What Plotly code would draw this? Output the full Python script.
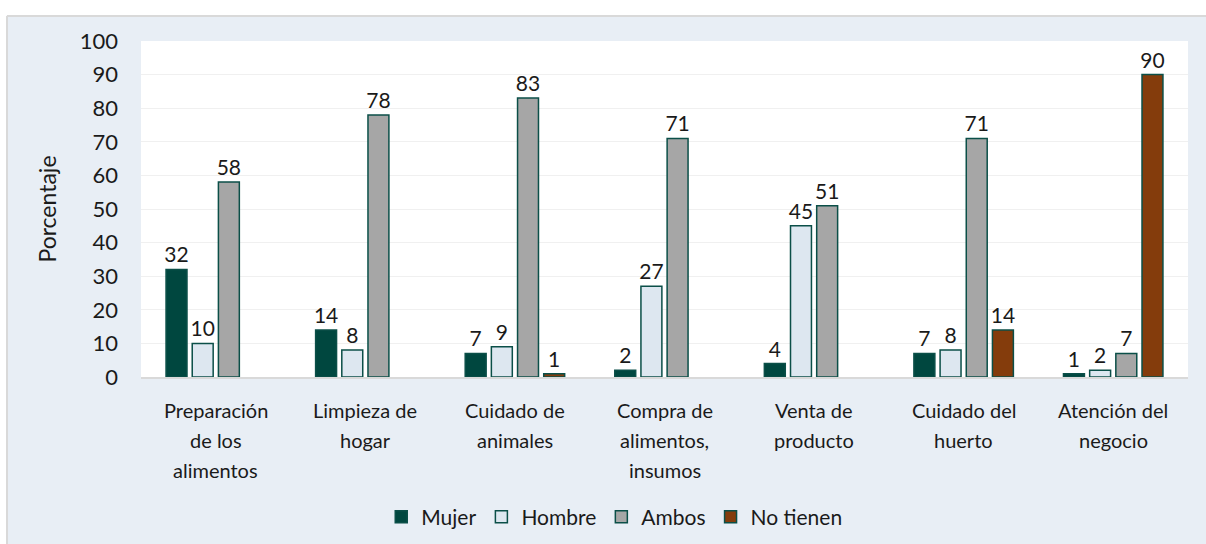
import plotly.graph_objects as go

categories = [
    "Preparación<br>de los<br>alimentos",
    "Limpieza de<br>hogar",
    "Cuidado de<br>animales",
    "Compra de<br>alimentos,<br>insumos",
    "Venta de<br>producto",
    "Cuidado del<br>huerto",
    "Atención del<br>negocio",
]
mujer = [32, 14, 7, 2, 4, 7, 1]
hombre = [10, 8, 9, 27, 45, 8, 2]
ambos = [58, 78, 83, 71, 51, 71, 7]
no_tienen = [None, None, 1, None, None, 14, 90]
y_ticks = [0, 10, 20, 30, 40, 50, 60, 70, 80, 90, 100]

series = [
    ("Mujer", mujer, "#00473f"),
    ("Hombre", hombre, "#dde7f0"),
    ("Ambos", ambos, "#a6a6a6"),
    ("No tienen", no_tienen, "#843c0c"),
]

FONT = "Lato, Carlito, 'Noto Sans', sans-serif"
PH = 336.0   # plot height px
PW = 1047.0  # plot width px

fig = go.Figure()
for name, vals, color in series:
    fig.add_trace(go.Bar(
        x=categories, y=vals, name=name,
        marker=dict(color=color, line=dict(color="#0b4f48", width=1.5)),
        text=[("" if v is None else str(v)) for v in vals],
        textposition="outside", cliponaxis=False, constraintext="none",
        textfont=dict(size=21, color="#1a1a1a", family=FONT),
    ))

# category labels as multi-line annotations (wider line spacing like the reference)
annotations = []
for cat in categories:
    for i, line in enumerate(cat.split("<br>")):
        annotations.append(dict(
            x=cat, xref="x", yref="paper", y=-(410 + 30 * i - 377) / PH,
            text=line, showarrow=False, xanchor="center", yanchor="middle",
            font=dict(size=20, family=FONT, color="#1a1a1a"),
        ))

fig.update_layout(
    width=1206, height=544,
    barmode="group", bargap=0.3, bargroupgap=0.2,
    paper_bgcolor="#e8eef5", plot_bgcolor="white",
    margin=dict(l=141, r=18, t=41, b=167, autoexpand=False),
    font=dict(family=FONT, size=19, color="#1a1a1a"),
    annotations=annotations,
    legend=dict(orientation="h", x=0.452, xanchor="center", y=-(517 - 377) / PH, yanchor="middle",
                font=dict(size=21, family=FONT), traceorder="normal",
                bgcolor="rgba(0,0,0,0)"),
    shapes=[
        dict(type="rect", xref="paper", yref="paper", x0=-0.2, x1=1.1, y0=1.0 + (41 - 15.5) / PH, y1=1.2,
             fillcolor="white", line=dict(width=0), layer="below"),
        dict(type="rect", xref="paper", yref="paper", x0=-0.2, x1=-(141 - 6.5) / PW, y0=-0.6, y1=1.2,
             fillcolor="white", line=dict(width=0), layer="below"),
        dict(type="line", xref="paper", yref="paper", x0=-(141 - 7) / PW, x1=1.1,
             y0=1.0 + (41 - 16) / PH, y1=1.0 + (41 - 16) / PH,
             line=dict(color="#d9d9d9", width=2), layer="below"),
        dict(type="line", xref="paper", yref="paper", x0=-(141 - 7) / PW, x1=-(141 - 7) / PW,
             y0=-0.6, y1=1.0 + (41 - 16) / PH,
             line=dict(color="#d9d9d9", width=2), layer="below"),
    ],
)
fig.update_yaxes(
    range=[0, 100], tickvals=y_ticks, showgrid=True, gridcolor="#f0f0f0", gridwidth=1,
    zeroline=False, showline=False, ticks="", ticklabelstandoff=22,
    tickfont=dict(size=22, family=FONT),
    title=dict(text="Porcentaje", standoff=16, font=dict(size=23, family=FONT)),
)
fig.update_xaxes(
    showline=True, linecolor="#d9d9d9", linewidth=1.5, ticks="", showgrid=False,
    showticklabels=False,
)

fig.write_html("out.html", config={"displayModeBar": False},
               post_script="document.body.style.margin='0';document.body.style.overflow='hidden';")
